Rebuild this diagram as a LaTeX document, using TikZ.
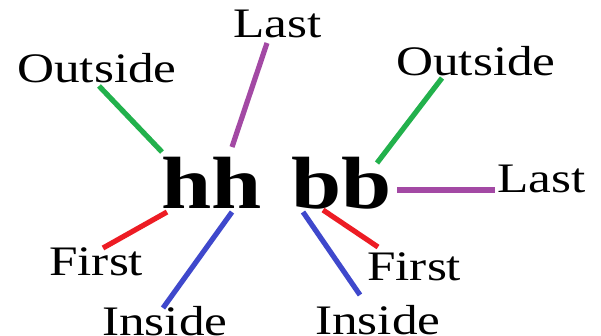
\documentclass[tikz,border=0pt]{standalone}
\usepackage{fontspec}
\setmainfont{Liberation Serif}
\definecolor{pgreen}{RGB}{34,177,76}
\definecolor{ppurple}{RGB}{163,73,164}
\definecolor{pred}{RGB}{237,28,36}
\definecolor{pblue}{RGB}{63,72,204}
\begin{document}
\begin{tikzpicture}[x=1pt,y=-1pt,
  lbl/.style={inner sep=0pt,anchor=base west,font=\fontsize{42}{42}\selectfont,xscale=1.22},
  big/.style={inner sep=0pt,anchor=base west,font=\fontsize{74}{74}\selectfont\bfseries,xscale=1.22},
  conn/.style={line width=5.2pt,line cap=butt},
  every node/.append style={transform shape}]
\useasboundingbox (0,0) rectangle (601,335);
\fill[white] (0,0) rectangle (601,335);
% main letters
\node[big] (hh) at (161,208) {hh};
\node[big] (bb) at (291,208) {bb};
% labels
\node[lbl] (outL) at (17,82) {Outside};
\node[lbl] (lastT) at (233,37) {Last};
\node[lbl] (outR) at (396,75) {Outside};
\node[lbl] (lastR) at (497,192) {Last};
\node[lbl] (firstL) at (49,275) {First};
\node[lbl] (insL) at (102,335) {Inside};
\node[lbl] (firstR) at (367,280) {First};
\node[lbl] (insR) at (315,334) {Inside};
% connector end points
\coordinate (gL1) at (99,86);   \coordinate (gL2) at (162,152);
\coordinate (pT1) at (267,43);  \coordinate (pT2) at (232,147);
\coordinate (gR1) at (442,78);  \coordinate (gR2) at (377,163);
\coordinate (pR1) at (397,190); \coordinate (pR2) at (495,190);
\coordinate (rL1) at (167,212); \coordinate (rL2) at (103,248);
\coordinate (bL1) at (232,212); \coordinate (bL2) at (163,308);
\coordinate (bR1) at (303,212); \coordinate (bR2) at (360,295);
\coordinate (rR1) at (323,210); \coordinate (rR2) at (378,247);
% connectors
\draw[conn,pgreen] (gL1) -- (gL2);
\draw[conn,ppurple] (pT1) -- (pT2);
\draw[conn,pgreen] (gR1) -- (gR2);
\draw[conn,ppurple] (pR1) -- (pR2);
\draw[conn,pred] (rL1) -- (rL2);
\draw[conn,pblue] (bL1) -- (bL2);
\draw[conn,pblue] (bR1) -- (bR2);
\draw[conn,pred] (rR1) -- (rR2);
\end{tikzpicture}
\end{document}
